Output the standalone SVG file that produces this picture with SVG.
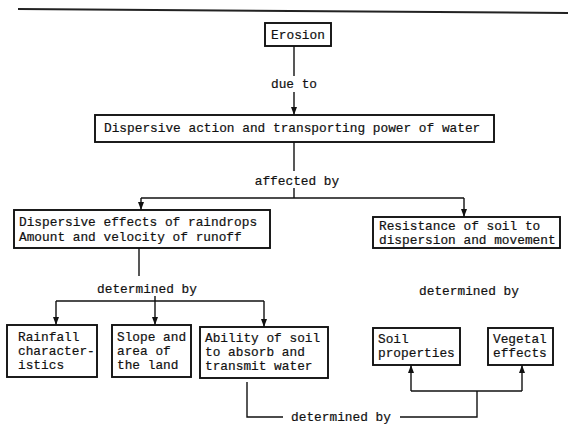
<svg xmlns="http://www.w3.org/2000/svg" width="568" height="435" viewBox="0 0 568 435">
<defs>
<marker id="ah" viewBox="0 0 10 10" refX="10" refY="5" markerWidth="8" markerHeight="6" orient="auto" markerUnits="userSpaceOnUse" preserveAspectRatio="none">
<path d="M0,0 L10,5 L0,10 z" fill="#111"/>
</marker>
<style>
.box{fill:#fff;stroke:#111;stroke-width:1.9}
.t{font-family:"Liberation Mono","Courier New",monospace;font-size:12.8px;fill:#111;stroke:#111;stroke-width:0.2}
.c{text-anchor:middle}
.ln{fill:none;stroke:#111;stroke-width:1.4}
.ar{fill:none;stroke:#111;stroke-width:1.4;marker-end:url(#ah)}
</style>
</defs>
<rect width="568" height="435" fill="#fff"/>
<line x1="18" y1="9" x2="568" y2="13" stroke="#222" stroke-width="2"/>

<g id="connectors">
<line class="ln" x1="294" y1="46" x2="294" y2="76"/>
<line class="ar" x1="294" y1="92" x2="294" y2="115"/>
<line class="ln" x1="294" y1="142" x2="294" y2="171"/>
<line class="ln" x1="294" y1="188" x2="294" y2="198"/>
<path class="ln" d="M141,198 H464"/>
<line class="ar" x1="141" y1="198" x2="141" y2="210"/>
<line class="ar" x1="464" y1="198" x2="464" y2="217"/>
<line class="ln" x1="139" y1="248" x2="139" y2="276"/>
<line class="ln" x1="155" y1="296" x2="155" y2="301"/>
<path class="ln" d="M56,301 H264"/>
<line class="ar" x1="56" y1="301" x2="56" y2="325"/>
<line class="ar" x1="155" y1="301" x2="155" y2="325"/>
<line class="ar" x1="264" y1="301" x2="264" y2="327"/>
<path class="ln" d="M247,382 V417 H283"/>
<path class="ln" d="M400,417 H477 V391"/>
<path class="ln" d="M411,391 H522"/>
<line class="ar" x1="411" y1="391" x2="411" y2="365"/>
<line class="ar" x1="522" y1="391" x2="522" y2="365"/>
<text class="t c" x="294" y="88">due to</text>
<text class="t c" x="297" y="185">affected by</text>
<text class="t c" x="147" y="293">determined by</text>
<text class="t c" x="469" y="295">determined by</text>
<text class="t c" x="341" y="421">determined by</text>
</g>

<g id="erosion">
<rect class="box" x="265" y="23" width="66" height="23"/>
<text class="t c" x="298" y="39">Erosion</text>
</g>
<g id="dispersive-action">
<rect class="box" x="95" y="115" width="399" height="27"/>
<text class="t" x="104" y="132">Dispersive action and transporting power of water</text>
</g>
<g id="dispersive-effects">
<rect class="box" x="14" y="210" width="256" height="38"/>
<text class="t" x="19" y="226">Dispersive effects of raindrops</text>
<text class="t" x="19" y="241">Amount and velocity of runoff</text>
</g>
<g id="resistance">
<rect class="box" x="373" y="217" width="187" height="31"/>
<text class="t" x="379" y="230">Resistance of soil to</text>
<text class="t" x="379" y="244">dispersion and movement</text>
</g>
<g id="rainfall">
<rect class="box" x="7" y="325" width="90" height="52"/>
<text class="t" x="18" y="341">Rainfall</text>
<text class="t" x="18" y="355">character-</text>
<text class="t" x="18" y="369">istics</text>
</g>
<g id="slope">
<rect class="box" x="112" y="325" width="79" height="52"/>
<text class="t" x="117" y="341">Slope and</text>
<text class="t" x="117" y="355">area of</text>
<text class="t" x="117" y="369">the land</text>
</g>
<g id="ability">
<rect class="box" x="200" y="327" width="128" height="51"/>
<text class="t" x="205" y="342">Ability of soil</text>
<text class="t" x="205" y="356">to absorb and</text>
<text class="t" x="205" y="370">transmit water</text>
</g>
<g id="soil-properties">
<rect class="box" x="373" y="328" width="87" height="37"/>
<text class="t" x="378" y="343">Soil</text>
<text class="t" x="378" y="357">properties</text>
</g>
<g id="vegetal">
<rect class="box" x="488" y="328" width="65" height="37"/>
<text class="t" x="493" y="343">Vegetal</text>
<text class="t" x="493" y="357">effects</text>
</g>
</svg>
